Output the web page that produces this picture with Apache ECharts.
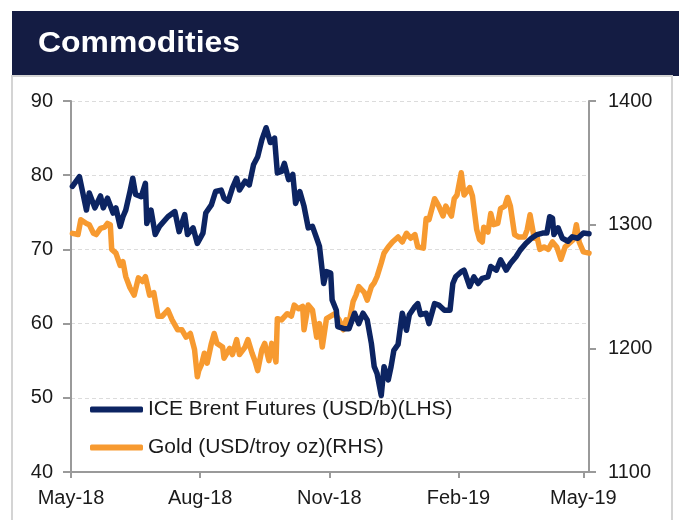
<!DOCTYPE html>
<html>
<head>
<meta charset="utf-8">
<script src="https://cdn.jsdelivr.net/npm/echarts@6/dist/echarts.min.js"></script>
<style>
  html, body { margin: 0; padding: 0; background: #fff; }
  #chart { width: 679px; height: 520px; }
</style>
</head>
<body>
<div id="chart"></div>
<script>
var brentDates = ['2018-05-02','2018-05-07','2018-05-10','2018-05-12','2018-05-14','2018-05-18','2018-05-22','2018-05-24','2018-05-27','2018-05-31',
    '2018-06-02','2018-06-05','2018-06-07','2018-06-09','2018-06-12','2018-06-14','2018-06-16','2018-06-20','2018-06-23','2018-06-24','2018-06-27','2018-06-30',
    '2018-07-03','2018-07-09','2018-07-14','2018-07-17','2018-07-21','2018-07-23','2018-07-27','2018-07-30',
    '2018-08-03','2018-08-05','2018-08-09','2018-08-12','2018-08-16','2018-08-18','2018-08-21','2018-08-24','2018-08-27','2018-08-29',
    '2018-09-02','2018-09-05','2018-09-08','2018-09-11','2018-09-14','2018-09-17','2018-09-20','2018-09-23','2018-09-25','2018-09-28','2018-09-30',
    '2018-10-03','2018-10-06','2018-10-08','2018-10-11','2018-10-14','2018-10-17','2018-10-20','2018-10-23','2018-10-25','2018-10-28','2018-10-30',
    '2018-11-02','2018-11-03','2018-11-06','2018-11-07','2018-11-12','2018-11-15','2018-11-19','2018-11-22','2018-11-25','2018-11-28',
    '2018-12-01','2018-12-03','2018-12-05','2018-12-08','2018-12-10','2018-12-13','2018-12-15','2018-12-17','2018-12-20','2018-12-23','2018-12-26','2018-12-28',
    '2019-01-01','2019-01-03','2019-01-05','2019-01-09','2019-01-11','2019-01-15','2019-01-18','2019-01-22','2019-01-26','2019-01-28','2019-01-30',
    '2019-02-03','2019-02-05','2019-02-09','2019-02-12','2019-02-15','2019-02-18','2019-02-22','2019-02-24','2019-02-28',
    '2019-03-03','2019-03-07','2019-03-10','2019-03-14','2019-03-17','2019-03-21','2019-03-25','2019-03-29',
    '2019-04-02','2019-04-05','2019-04-07','2019-04-09','2019-04-10','2019-04-13','2019-04-16','2019-04-20','2019-04-23','2019-04-27',
    '2019-05-01','2019-05-05'];
var brentValues = [78.5,79.8,77.1,75.3,77.6,75.6,77.2,75.6,76.9,74.9,
    75.6,73.1,74.4,75.3,77.8,79.6,77.4,77.1,78.9,73.5,75.3,72.0,
    73.1,74.4,75.1,72.4,74.7,72.0,72.9,70.8,
    72.2,74.9,76.0,77.8,78.0,76.9,76.5,78.3,79.6,78.0,
    79.2,78.7,81.4,82.5,84.8,86.4,84.4,85.0,80.3,80.5,81.6,
    79.4,80.1,76.2,77.8,75.8,72.9,73.1,71.5,70.4,65.4,67.0,
    66.8,63.2,61.8,59.6,59.3,59.3,61.4,60.0,61.4,60.5,
    57.3,54.2,53.3,50.3,54.2,52.4,54.2,56.4,57.2,61.4,59.1,61.2,
    62.3,62.7,61.2,61.4,60.0,62.7,62.5,61.8,61.8,65.4,66.3,
    67.0,67.2,65.0,66.3,65.4,66.1,66.3,67.7,67.2,
    68.6,67.2,68.1,69.0,69.9,70.8,71.5,72.0,
    72.2,72.2,74.4,74.2,72.0,72.9,71.5,71.1,71.7,71.5,
    72.2,72.1];

var goldDates = ['2018-05-02','2018-05-06','2018-05-08','2018-05-12','2018-05-14','2018-05-17','2018-05-19','2018-05-22','2018-05-25','2018-05-27','2018-05-29','2018-05-30',
    '2018-06-02','2018-06-05','2018-06-07','2018-06-09','2018-06-12','2018-06-15','2018-06-18','2018-06-21','2018-06-23','2018-06-26','2018-06-29',
    '2018-07-02','2018-07-05','2018-07-09','2018-07-12','2018-07-16','2018-07-19','2018-07-22','2018-07-25','2018-07-28','2018-07-30','2018-07-31',
    '2018-08-02','2018-08-04','2018-08-06','2018-08-09','2018-08-11','2018-08-13','2018-08-17','2018-08-18','2018-08-22','2018-08-24','2018-08-27','2018-08-29',
    '2018-09-02','2018-09-04','2018-09-07','2018-09-09','2018-09-11','2018-09-14','2018-09-16','2018-09-19','2018-09-21','2018-09-24','2018-09-25','2018-09-28',
    '2018-10-02','2018-10-05','2018-10-07','2018-10-10','2018-10-13','2018-10-14','2018-10-17','2018-10-20','2018-10-23','2018-10-25','2018-10-27','2018-10-30',
    '2018-11-02','2018-11-05','2018-11-08','2018-11-11','2018-11-13','2018-11-15','2018-11-18','2018-11-20','2018-11-22','2018-11-26','2018-11-28',
    '2018-12-01','2018-12-03','2018-12-05','2018-12-08','2018-12-10','2018-12-13','2018-12-16','2018-12-20','2018-12-23','2018-12-26','2018-12-29',
    '2019-01-01','2019-01-03','2019-01-07','2019-01-09','2019-01-11','2019-01-15','2019-01-18','2019-01-21','2019-01-23','2019-01-27','2019-01-29','2019-01-31',
    '2019-02-03','2019-02-05','2019-02-09','2019-02-11','2019-02-14','2019-02-16','2019-02-18','2019-02-19','2019-02-22','2019-02-24','2019-02-26',
    '2019-03-01','2019-03-03','2019-03-06','2019-03-08','2019-03-10','2019-03-13','2019-03-16','2019-03-20','2019-03-22','2019-03-24','2019-03-27','2019-03-29','2019-03-31',
    '2019-04-03','2019-04-06','2019-04-09','2019-04-12','2019-04-15','2019-04-18','2019-04-21','2019-04-24','2019-04-26','2019-04-28',
    '2019-05-01','2019-05-05'];
var goldValues = [1293,1292,1304,1301,1300,1293,1292,1297,1298,1301,1300,1280,
    1277,1267,1270,1258,1249,1243,1257,1254,1258,1243,1245,
    1226,1226,1231,1223,1215,1215,1209,1212,1199,1177,1182,
    1187,1196,1188,1204,1212,1204,1201,1192,1200,1195,1207,1195,
    1201,1207,1196,1190,1182,1199,1204,1190,1204,1189,1224,1223,
    1228,1226,1235,1232,1234,1215,1235,1231,1209,1220,1201,1224,
    1226,1228,1223,1215,1223,1220,1238,1243,1250,1245,1239,
    1250,1253,1258,1269,1277,1282,1286,1290,1286,1293,1289,
    1292,1282,1281,1305,1304,1321,1315,1307,1315,1307,1321,1324,
    1342,1324,1330,1323,1296,1288,1286,1298,1294,1309,1300,
    1301,1313,1315,1322,1315,1292,1290,1290,1296,1308,1289,1290,1280,
    1282,1280,1286,1282,1272,1282,1285,1288,1300,1286,
    1278,1277];

var tickDates = ['2018-05-01', '2018-08-01', '2018-11-01', '2019-02-01', '2019-05-01'];
var tickLabels = ['May-18', 'Aug-18', 'Nov-18', 'Feb-19', 'May-19'];

var seriesNames = ['ICE Brent Futures (USD/b)(LHS)', 'Gold (USD/troy oz)(RHS)'];

// dates as day numbers (UTC) so the x axis can be a plain value axis
function toDay(d) {
    var p = d.split('-');
    return Date.UTC(+p[0], +p[1] - 1, +p[2]) / 86400000;
}

function pairs(dates, values) {
    var out = [];
    for (var i = 0; i < dates.length; i++) {
        out.push([toDay(dates[i]), values[i]]);
    }
    return out;
}

var tickDays = tickDates.map(toDay);
var labelFont = 'Liberation Sans, Arial, sans-serif';

var option = {
    animation: false,
    backgroundColor: '#fff',
    graphic: [
        { type: 'rect', shape: { x: 12, y: 11, width: 667, height: 65 }, style: { fill: '#141c43' } },
        { type: 'rect', shape: { x: 12, y: 76, width: 660, height: 470 }, style: { fill: 'none', stroke: '#d4d4d4', lineWidth: 2 } },
        {
            type: 'text', x: 38, y: 44, scaleX: 1.1,
            style: { text: 'Commodities', fill: '#fff', font: 'bold 29px ' + labelFont, textVerticalAlign: 'middle' }
        }
    ],
    grid: { left: 71, right: 90, top: 101, bottom: 48 },
    legend: {
        orient: 'vertical',
        left: 90,
        top: 399,
        padding: 0,
        itemGap: 17,
        itemWidth: 53,
        itemHeight: 6,
        icon: 'roundRect',
        textStyle: { fontSize: 21, fontFamily: labelFont, color: '#1a1a1a', lineHeight: 21 },
        data: seriesNames
    },
    xAxis: {
        type: 'value',
        min: toDay('2018-05-01'),
        max: toDay('2019-05-05'),
        axisLine: { lineStyle: { color: '#9a9a9a', width: 2 } },
        axisTick: { show: true, length: 6, customValues: tickDays, lineStyle: { color: '#9a9a9a', width: 2 } },
        axisLabel: {
            customValues: tickDays,
            margin: 16,
            fontSize: 20,
            fontFamily: labelFont,
            color: '#1a1a1a',
            formatter: function (v) {
                var i = tickDays.indexOf(v);
                return i >= 0 ? tickLabels[i] : '';
            }
        },
        splitLine: { show: false }
    },
    yAxis: [
        {
            type: 'value',
            min: 40, max: 90, interval: 10,
            position: 'left',
            axisLine: { show: true, lineStyle: { color: '#9a9a9a', width: 2 } },
            axisTick: { show: true, length: 8, lineStyle: { color: '#9a9a9a', width: 2 } },
            axisLabel: { margin: 18, fontSize: 20, fontFamily: labelFont, color: '#1a1a1a' },
            splitLine: { show: true, lineStyle: { color: '#dcdcdc', width: 1, type: [4, 3] } }
        },
        {
            type: 'value',
            min: 1100, max: 1400, interval: 100,
            position: 'right',
            axisLine: { show: true, lineStyle: { color: '#9a9a9a', width: 2 } },
            axisTick: { show: true, length: 7, lineStyle: { color: '#9a9a9a', width: 2 } },
            axisLabel: {
                margin: 19, fontSize: 20, fontFamily: labelFont, color: '#1a1a1a',
                formatter: function (v) { return String(v); }
            },
            splitLine: { show: false }
        }
    ],
    series: [
        {
            name: seriesNames[0],
            type: 'line',
            yAxisIndex: 0,
            showSymbol: false,
            color: '#0c2462',
            lineStyle: { width: 5.5, join: 'round', cap: 'round' },
            data: pairs(brentDates, brentValues),
            z: 3
        },
        {
            name: seriesNames[1],
            type: 'line',
            yAxisIndex: 1,
            showSymbol: false,
            color: '#f79a30',
            lineStyle: { width: 5.5, join: 'round', cap: 'round' },
            data: pairs(goldDates, goldValues),
            z: 2
        }
    ]
};

var myChart = echarts.init(document.getElementById('chart'));
myChart.setOption(option);
</script>
</body>
</html>
